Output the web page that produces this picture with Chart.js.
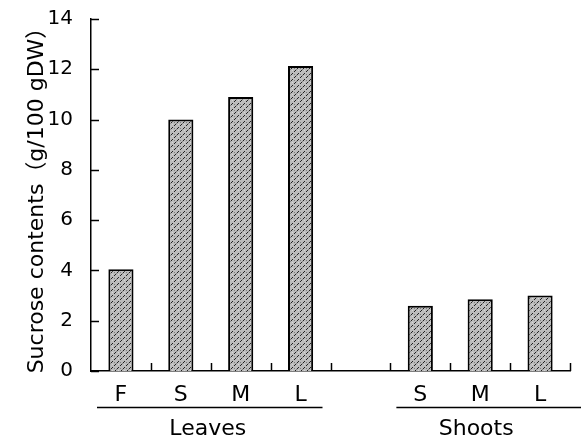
<!DOCTYPE html>
<html>
<head>
<meta charset="utf-8">
<script src="https://cdn.jsdelivr.net/npm/chart.js@4/dist/chart.umd.min.js"></script>
<style>
  html, body { margin: 0; padding: 0; background: #fff; }
  #c { display: block; }
</style>
</head>
<body>
<canvas id="c" width="581" height="439"></canvas>
<script>
// ---- data ----
const categories = ['F', 'S', 'M', 'L', '', 'S', 'M', 'L'];
const sucrose = [4.05, 10.0, 10.9, 12.13, null, 2.6, 2.85, 3.0];
const groupNames = ['Leaves', 'Shoots'];
const groupFirst = [0, 5];
const groupLast = [3, 7];
const yTitle = 'Sucrose contents（g/100 gDW）';
const yMin = 0, yMax = 14, yStep = 2;

const FONT = "'DejaVu Sans', 'Noto Sans CJK JP', sans-serif";

const canvas = document.getElementById('c');
const ctx0 = canvas.getContext('2d');

function makePattern() {
  const s = 6;
  const c = document.createElement('canvas');
  c.width = s; c.height = s;
  const g = c.getContext('2d');
  g.fillStyle = '#bcbcbc';
  g.fillRect(0, 0, s, s);
  g.fillStyle = '#222';
  for (let i = 0; i < s; i++) {
    if (i % 3 !== 2) g.fillRect(i, s - 1 - i, 1, 1);
  }
  g.fillStyle = '#7e7e7e';
  g.fillRect(2, 3, 1, 1);
  g.fillRect(0, 2, 1, 1);
  g.fillStyle = '#d8d8d8';
  g.fillRect(4, 4, 1, 1);
  return ctx0.createPattern(c, 'repeat');
}

const decor = {
  id: 'decor',
  afterDraw(chart) {
    const { ctx, scales: { x, y } } = chart;
    ctx.save();
    ctx.strokeStyle = '#000';
    ctx.lineWidth = 1.5;
    const line = (x1, y1, x2, y2) => { ctx.beginPath(); ctx.moveTo(x1, y1); ctx.lineTo(x2, y2); ctx.stroke(); };
    // inward y ticks
    y.ticks.forEach(t => {
      const py = Math.round(y.getPixelForValue(t.value)) + 0.5;
      line(x.left, py, x.left + 8, py);
    });
    // upward x ticks at category boundaries
    const n = categories.length;
    const w = (x.right - x.left) / n;
    for (let i = 0; i < n; i++) {
      const px = Math.round(x.getPixelForValue(i) + w / 2) + 0.5;
      line(px, y.bottom, px, y.bottom - 8);
    }
    // group lines and labels
    ctx.fillStyle = '#000';
    ctx.font = "22px " + FONT;
    ctx.textAlign = 'center';
    ctx.textBaseline = 'alphabetic';
    groupNames.forEach((name, gi) => {
      const a = x.getPixelForValue(groupFirst[gi]) - w / 2;
      const b = x.getPixelForValue(groupLast[gi]) + w / 2;
      const x1 = a + 6;
      const x2 = gi === groupNames.length - 1 ? chart.width : b - 8;
      const ly = y.bottom + 36.5;
      line(x1, ly, x2, ly);
      ctx.fillText(name, (a + b) / 2 - (gi === 0 ? 3 : 4), y.bottom + 64);
    });
    ctx.restore();
  }
};

new Chart(canvas, {
  type: 'bar',
  data: {
    labels: categories,
    datasets: [{
      data: sucrose,
      backgroundColor: makePattern(),
      borderColor: '#000',
      borderWidth: 2,
      borderSkipped: 'bottom',
      barPercentage: 0.42,
      categoryPercentage: 1.0
    }]
  },
  options: {
    responsive: false,
    animation: false,
    devicePixelRatio: 1,
    layout: { padding: { left: 0, right: 11, top: 19, bottom: 0 } },
    plugins: { legend: { display: false }, tooltip: { enabled: false }, title: { display: false } },
    scales: {
      x: {
        offset: true,
        grid: { display: false, drawTicks: false },
        border: { display: true, color: '#000', width: 1.5 },
        ticks: { color: '#000', font: { family: FONT, size: 22 }, padding: 11, maxRotation: 0, autoSkip: false },
        afterFit(s) { s.height = 68; s.paddingLeft = 0; s.paddingRight = 0; }
      },
      y: {
        min: yMin, max: yMax,
        grid: { display: false, drawTicks: false },
        border: { display: true, color: '#000', width: 1.5 },
        ticks: { stepSize: yStep, color: '#000', font: { family: FONT, size: 20 }, padding: 18 },
        title: { display: true, text: yTitle, color: '#000', font: { family: FONT, size: 22 }, padding: { top: 24, bottom: 0 } },
        afterFit(s) { s.width = 91; s.paddingTop = 0; s.paddingBottom = 0; }
      }
    }
  },
  plugins: [decor]
});
</script>
</body>
</html>
